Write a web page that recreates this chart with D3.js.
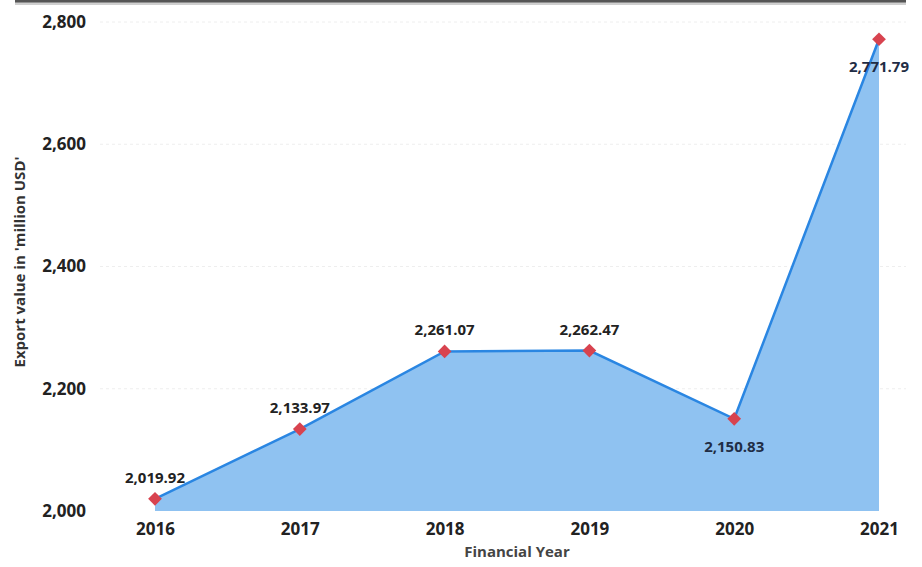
<!DOCTYPE html>
<html>
<head>
<meta charset="utf-8">
<script src="https://cdn.jsdelivr.net/npm/d3@7"></script>
<style>
  html, body { margin: 0; padding: 0; background: #fff; }
  svg { display: block; }
  text { font-family: "Open Sans", "Noto Sans", sans-serif; }
</style>
</head>
<body>
<svg id="chart" width="922" height="567"></svg>
<script>
// Export values by financial year (million USD)
const years = ["2016", "2017", "2018", "2019", "2020", "2021"];
const exportValues = [2019.92, 2133.97, 2261.07, 2262.47, 2150.83, 2771.79];
const labelAbove = [true, true, true, true, false, false];
const yTicks = [2000, 2200, 2400, 2600, 2800];

const svg = d3.select("#chart");

const x = d3.scalePoint().domain(years).range([155, 879]);
const y = d3.scaleLinear().domain([2000, 2800]).range([511, 22]);

const data = years.map((yr, i) => ({ yr, v: exportValues[i], above: labelAbove[i] }));

// top frame line
svg.append("line")
  .attr("x1", 15).attr("x2", 906).attr("y1", 2).attr("y2", 2)
  .attr("stroke", "#cfcfcf").attr("stroke-width", 6);
svg.append("line")
  .attr("x1", 15).attr("x2", 906).attr("y1", 1).attr("y2", 1)
  .attr("stroke", "#555").attr("stroke-width", 3);

// horizontal gridlines
svg.append("g").selectAll("line").data(yTicks.slice(1)).join("line")
  .attr("x1", 100).attr("x2", 906)
  .attr("y1", d => y(d)).attr("y2", d => y(d))
  .attr("stroke", "#eeeeee").attr("stroke-width", 1)
  .attr("stroke-dasharray", "3,3");

// y axis
const yAxis = d3.axisLeft(y).tickValues(yTicks).tickFormat(d3.format(",")).tickSize(0).tickPadding(0);
const gy = svg.append("g").attr("transform", "translate(86,0)").call(yAxis);
gy.select(".domain").remove();
gy.selectAll("text")
  .attr("font-size", 17).attr("font-weight", 700).attr("fill", "#222");

// x axis
const xAxis = d3.axisBottom(x).tickSize(0).tickPadding(0);
const gx = svg.append("g").attr("transform", "translate(0,511)").call(xAxis);
gx.select(".domain").remove();
gx.selectAll("text")
  .attr("dy", null).attr("y", 24)
  .attr("font-size", 17).attr("font-weight", 700).attr("fill", "#222");

// area
const area = d3.area()
  .x(d => x(d.yr))
  .y0(y(2000))
  .y1(d => y(d.v));
svg.append("path").datum(data)
  .attr("d", area)
  .attr("fill", "#8fc2f1");

// line
const line = d3.line().x(d => x(d.yr)).y(d => y(d.v));
svg.append("path").datum(data)
  .attr("d", line)
  .attr("fill", "none")
  .attr("stroke", "#2a86e2")
  .attr("stroke-width", 2.5);

// diamond markers
svg.append("g").selectAll("path").data(data).join("path")
  .attr("d", d3.symbol().type(d3.symbolDiamond2).size(120))
  .attr("transform", d => `translate(${x(d.yr)},${y(d.v)})`)
  .attr("fill", "#d8434f");

// value labels
const fmt = d3.format(",.2f");
svg.append("g").selectAll("text").data(data).join("text")
  .attr("x", d => x(d.yr))
  .attr("y", d => y(d.v) + (d.above ? -16 : 33))
  .attr("text-anchor", "middle")
  .attr("font-size", 15).attr("font-weight", 700)
  .attr("fill", d => d.above ? "#222" : "#1f2d45")
  .text(d => fmt(d.v));

// axis titles
svg.append("text")
  .attr("x", 517).attr("y", 557)
  .attr("text-anchor", "middle")
  .attr("font-size", 15).attr("font-weight", 700).attr("fill", "#444")
  .text("Financial Year");

svg.append("text")
  .attr("transform", "translate(25,262) rotate(-90)")
  .attr("text-anchor", "middle")
  .attr("font-size", 15).attr("font-weight", 700).attr("fill", "#333")
  .text("Export value in 'million USD'");
</script>
</body>
</html>
